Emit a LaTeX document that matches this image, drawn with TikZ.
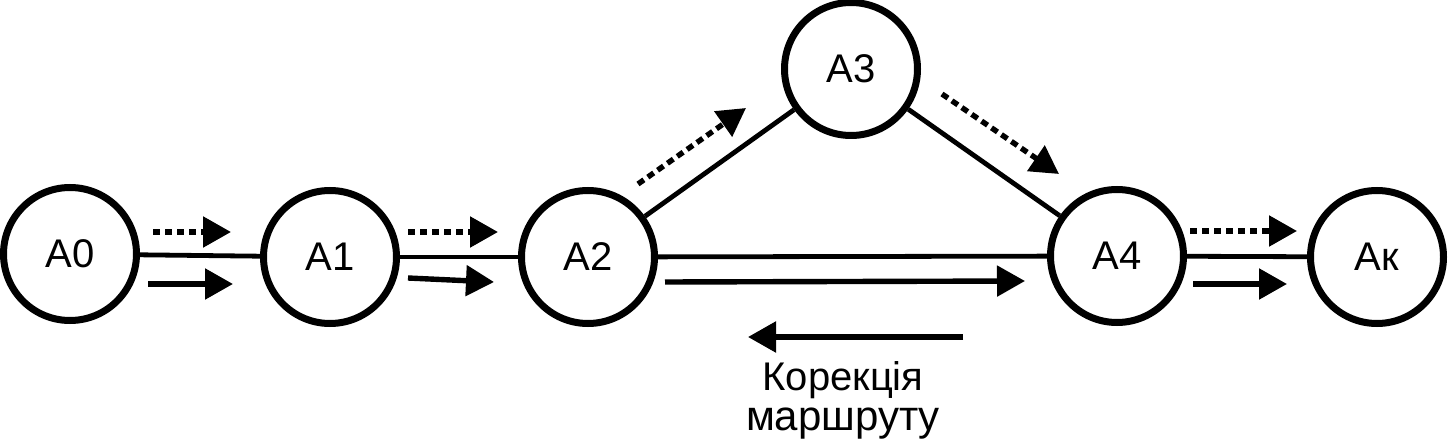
\documentclass[tikz,border=0pt]{standalone}
\usepackage{fontspec}
\setmainfont{Liberation Sans}
\usetikzlibrary{arrows.meta}
\begin{document}
\begin{tikzpicture}[x=0.5pt,y=-0.5pt,
  state/.style={circle,draw,line width=3.5pt,minimum size=66.5pt,inner sep=0pt,
    font=\fontsize{20pt}{24pt}\selectfont},
  link/.style={line width=2.4pt},
  flow/.style={line width=2.7pt,-{Triangle[length=14pt,width=15pt]}},
  plan/.style={flow,dash pattern=on 3.6pt off 2.4pt},
  lbl/.style={inner sep=0pt,anchor=base}]
\useasboundingbox (0,0) rectangle (1448,444);
% states
\node[state] (A0) at (70,254) {A0};
\node[state] (A1) at (330,257) {A1};
\node[state] (A2) at (588,257) {A2};
\node[state] (A3) at (851,69) {A3};
\node[state] (A4) at (1117,256) {A4};
\node[state] (Ak) at (1377,257) {Ак};
% links
\draw[link] (A0) -- (A1);
\draw[link] (A1) -- (A2);
\draw[link] (A2) -- (A3);
\draw[link] (A3) -- (A4);
\draw[link] (A2) -- (A4);
\draw[link] (A4) -- (Ak);
% free arrow end points
\coordinate (d1s) at (153,232); \coordinate (d1e) at (231,232);
\coordinate (d2s) at (408,232); \coordinate (d2e) at (498,232);
\coordinate (d3s) at (638,184); \coordinate (d3e) at (746,108);
\coordinate (d4s) at (942,94);  \coordinate (d4e) at (1059,174);
\coordinate (d5s) at (1190,231); \coordinate (d5e) at (1297,231);
\coordinate (s1s) at (148,284); \coordinate (s1e) at (233,284);
\coordinate (s2s) at (408,278); \coordinate (s2e) at (494,282);
\coordinate (s3s) at (665,282); \coordinate (s3e) at (1025,281);
\coordinate (s4s) at (1193,284); \coordinate (s4e) at (1287,284);
\coordinate (rs) at (963,337); \coordinate (re) at (748,337);
% planned (dashed) arrows
\draw[plan] (d1s) -- (d1e);
\draw[plan] (d2s) -- (d2e);
\draw[plan] (d3s) -- (d3e);
\draw[plan] (d4s) -- (d4e);
\draw[plan] (d5s) -- (d5e);
% actual (solid) arrows
\draw[flow] (s1s) -- (s1e);
\draw[flow] (s2s) -- (s2e);
\draw[flow] (s3s) -- (s3e);
\draw[flow] (s4s) -- (s4e);
\draw[flow] (rs) -- (re);
% caption
\node[lbl,font=\fontsize{20pt}{24pt}\selectfont] (t1) at (843,390) {Корекція};
\node[lbl,font=\fontsize{21pt}{25pt}\selectfont] (t2) at (843,430) {маршруту};
\end{tikzpicture}
\end{document}
